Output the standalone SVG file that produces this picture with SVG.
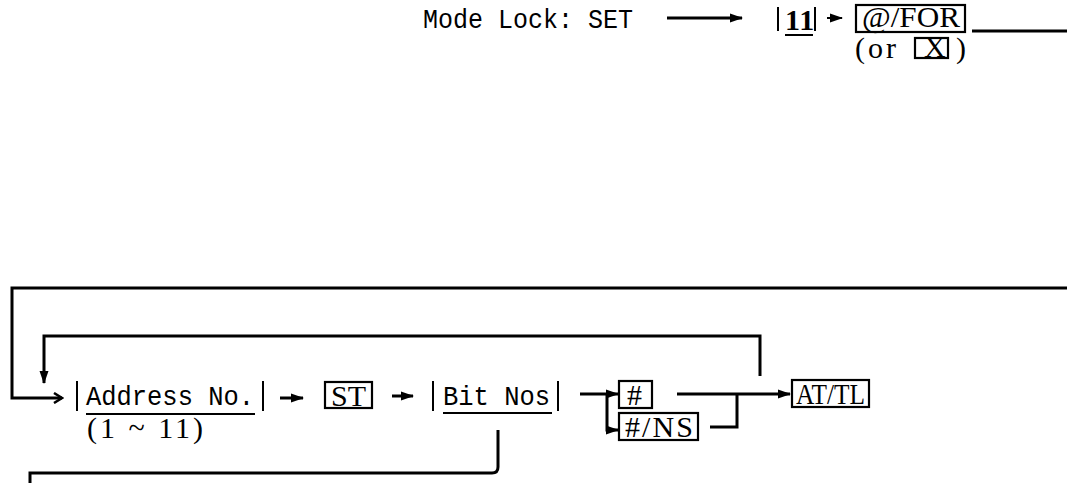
<svg xmlns="http://www.w3.org/2000/svg" width="1067" height="483" viewBox="0 0 1067 483">
<style>
.mono{font-family:"Liberation Mono","DejaVu Sans Mono",monospace;font-size:28px;fill:#000}
.ser{font-family:"Liberation Serif","Times New Roman",serif;font-size:30px;fill:#000}
.ln{fill:none;stroke:#000;stroke-width:3}
.thin{fill:none;stroke:#000;stroke-width:2}
.box{fill:none;stroke:#000;stroke-width:2.2}
</style>
<defs>
<marker id="ah" markerWidth="13" markerHeight="10" refX="12" refY="5" orient="auto" markerUnits="userSpaceOnUse">
<path d="M0,0.5 L13,5 L0,9.5 z" fill="#000"/>
</marker>
<marker id="ao" markerWidth="12" markerHeight="12" refX="10" refY="6" orient="auto" markerUnits="userSpaceOnUse">
<path d="M2,1 L10,6 L2,11" fill="none" stroke="#000" stroke-width="2.5"/>
</marker>
</defs>
<rect width="1067" height="483" fill="#fff"/>

<g id="connectors">
<line class="ln" x1="667" y1="18" x2="742" y2="18" marker-end="url(#ah)"/>
<line class="thin" x1="827" y1="18" x2="842" y2="18" marker-end="url(#ah)"/>
<line class="ln" x1="972" y1="31" x2="1067" y2="31"/>
<path class="ln" d="M1067,288 L12,288 L12,398 L62,398" marker-end="url(#ao)"/>
<path class="ln" d="M760,376 L760,336 L44,336 L44,383" marker-end="url(#ah)"/>
<line class="ln" x1="280" y1="398" x2="303" y2="398" marker-end="url(#ah)"/>
<line class="ln" x1="392" y1="396" x2="413" y2="396" marker-end="url(#ah)"/>
<line class="ln" x1="580" y1="394" x2="618" y2="394" marker-end="url(#ah)"/>
<path class="ln" d="M607,394 L607,430 L618,430" marker-end="url(#ah)"/>
<path class="ln" d="M677,394 L790,394" marker-end="url(#ah)"/>
<path class="ln" d="M710,427 L737,427 L737,394"/>
<path class="ln" d="M498,430 L498,467 Q498,473 492,473 L30,473 L30,483"/>
</g>

<g id="mode-lock">
<text class="mono" x="423" y="28" textLength="210" lengthAdjust="spacingAndGlyphs">Mode Lock: SET</text>
</g>

<g id="n11">
<line class="thin" x1="778" y1="7" x2="778" y2="31"/>
<line class="thin" x1="815" y1="7" x2="815" y2="31"/>
<text class="ser" x="785" y="30" font-weight="bold" letter-spacing="1">11</text>
<line class="thin" x1="785" y1="35" x2="813" y2="35"/>
</g>

<g id="for">
<rect class="box" x="856" y="5" width="109" height="27"/>
<text class="ser" x="862" y="27" font-size="24" textLength="98" lengthAdjust="spacingAndGlyphs">@/FOR</text>
<text class="ser" x="855" y="58" font-size="24" letter-spacing="3">(or</text>
<rect class="box" x="915" y="38" width="33" height="20"/>
<text class="ser" x="924" y="57" font-size="19">X</text>
<text class="ser" x="956" y="58" font-size="24">)</text>
</g>

<g id="address">
<line class="thin" x1="77" y1="381" x2="77" y2="411"/>
<line class="thin" x1="263" y1="381" x2="263" y2="411"/>
<text class="mono" x="86" y="405" textLength="168" lengthAdjust="spacingAndGlyphs">Address No.</text>
<line class="thin" x1="86" y1="414" x2="255" y2="414"/>
<text class="ser" x="87" y="438" font-size="26" textLength="116" lengthAdjust="spacing">(1 ~ 11)</text>
</g>

<g id="st">
<rect class="box" x="325" y="382" width="47" height="26"/>
<text class="ser" x="331" y="406">ST</text>
</g>

<g id="bitnos">
<line class="thin" x1="433" y1="381" x2="433" y2="411"/>
<line class="thin" x1="558" y1="381" x2="558" y2="411"/>
<text class="mono" x="443" y="405" textLength="107" lengthAdjust="spacingAndGlyphs">Bit Nos</text>
<line class="thin" x1="443" y1="413" x2="552" y2="413"/>
</g>

<g id="hash">
<rect class="box" x="619" y="381" width="33" height="27"/>
<text class="ser" x="627" y="405">#</text>
</g>

<g id="hashns">
<rect class="box" x="619" y="413" width="79" height="27"/>
<text class="ser" x="625" y="437" textLength="68" lengthAdjust="spacing">#/NS</text>
</g>

<g id="attl">
<rect class="box" x="792" y="380" width="77" height="27"/>
<text class="ser" x="796" y="404" textLength="69" lengthAdjust="spacingAndGlyphs">AT/TL</text>
</g>
</svg>
